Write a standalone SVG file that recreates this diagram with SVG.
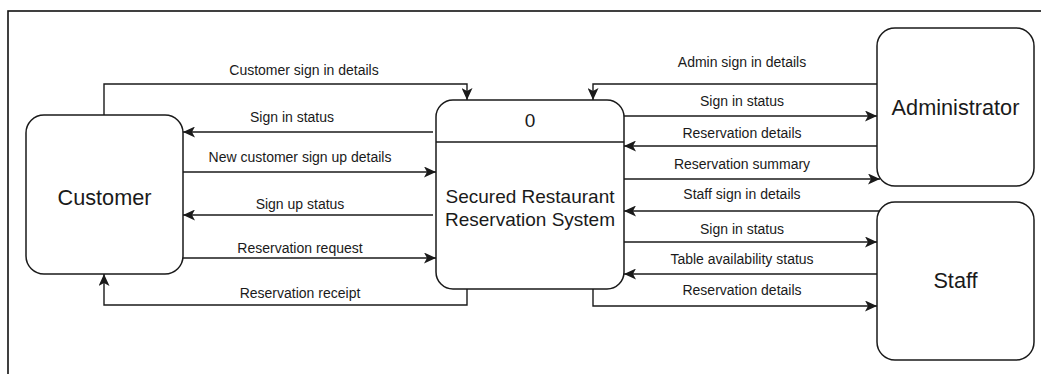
<svg xmlns="http://www.w3.org/2000/svg" width="1041" height="374" viewBox="0 0 1041 374">
  <style>
    .frame { fill: none; stroke: #111; stroke-width: 1.6; }
    .node { fill: #fff; stroke: #1a1a1a; stroke-width: 1.5; }
    .flow { fill: none; stroke: #1a1a1a; stroke-width: 1.4; marker-end: url(#arrow); }
    text { font-family: "Liberation Sans", Arial, sans-serif; fill: #1a1a1a; text-anchor: middle; dominant-baseline: central; }
    .lbl { font-size: 14px; }
    .ent { font-size: 21.7px; }
    .proc { font-size: 19px; }
  </style>
  <defs>
    <marker id="arrow" viewBox="0 0 12 11" refX="12" refY="5.5" markerWidth="12" markerHeight="11" markerUnits="userSpaceOnUse" orient="auto">
      <path d="M0,0 L12,5.5 L0,11 L3,5.5 Z" fill="#1a1a1a"/>
    </marker>
  </defs>
  <rect width="1041" height="374" fill="#fff"/>
  <!-- outer border -->
  <rect class="frame" x="8" y="11" width="1045" height="380"/>

  <!-- data flows -->
  <g id="connectors">
    <path class="flow" d="M104,115 V84 H467 V100"/>
    <path class="flow" d="M433,132 H183"/>
    <path class="flow" d="M183,172 H436"/>
    <path class="flow" d="M433,215 H183"/>
    <path class="flow" d="M183,258 H436"/>
    <path class="flow" d="M467,289 V305 H104 V274"/>
    <path class="flow" d="M877,84 H593 V100"/>
    <path class="flow" d="M624,116 H877"/>
    <path class="flow" d="M877,146 H624"/>
    <path class="flow" d="M624,179 H880"/>
    <path class="flow" d="M883,211 H624"/>
    <path class="flow" d="M624,242 H877"/>
    <path class="flow" d="M877,274 H624"/>
    <path class="flow" d="M593,289 V306 H877"/>
    <text class="lbl" x="304" y="70">Customer sign in details</text>
    <text class="lbl" x="292" y="117">Sign in status</text>
    <text class="lbl" x="300" y="157">New customer sign up details</text>
    <text class="lbl" x="300" y="204">Sign up status</text>
    <text class="lbl" x="300" y="248">Reservation request</text>
    <text class="lbl" x="300" y="293">Reservation receipt</text>
    <text class="lbl" x="742" y="62">Admin sign in details</text>
    <text class="lbl" x="742" y="101">Sign in status</text>
    <text class="lbl" x="742" y="133">Reservation details</text>
    <text class="lbl" x="742" y="164">Reservation summary</text>
    <text class="lbl" x="742" y="194">Staff sign in details</text>
    <text class="lbl" x="742" y="229">Sign in status</text>
    <text class="lbl" x="742" y="259">Table availability status</text>
    <text class="lbl" x="742" y="290">Reservation details</text>
  </g>

  <g id="customer">
    <rect class="node" x="26" y="115" width="157" height="159" rx="18"/>
    <text class="ent" x="104.5" y="197">Customer</text>
  </g>

  <g id="process-0">
    <rect class="node" x="436" y="100" width="188" height="189" rx="17"/>
    <line x1="436" y1="142" x2="624" y2="142" stroke="#1a1a1a" stroke-width="1.5"/>
    <text class="proc" x="530" y="120">0</text>
    <text class="proc" x="530" y="196">Secured Restaurant</text>
    <text class="proc" x="530" y="219.5">Reservation System</text>
  </g>

  <g id="administrator">
    <rect class="node" x="877" y="28" width="157" height="158" rx="18"/>
    <text class="ent" x="955.5" y="107">Administrator</text>
  </g>

  <g id="staff">
    <rect class="node" x="877" y="202" width="157" height="158" rx="18"/>
    <text class="ent" x="955.5" y="280">Staff</text>
  </g>
</svg>
